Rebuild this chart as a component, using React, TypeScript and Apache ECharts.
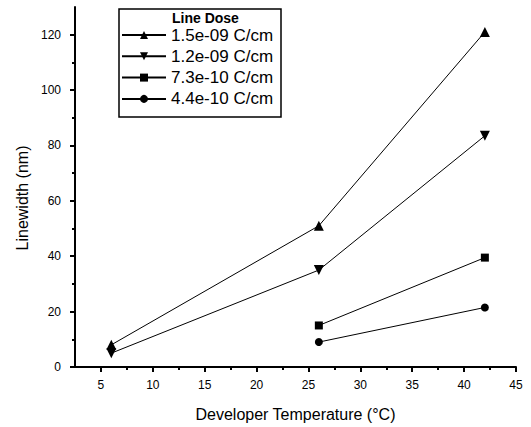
import React, { useEffect, useRef } from "react";
import * as echarts from "echarts";

const temps = [6, 26, 42];
const dose15 = [8, 51, 121];
const dose12 = [5, 35, 83.5];
const dose73 = [null, 15, 39.5];
const dose44 = [null, 9, 21.5];
const seriesNames = ["1.5e-09 C/cm", "1.2e-09 C/cm", "7.3e-10 C/cm", "4.4e-10 C/cm"];
const xMajor = [5, 10, 15, 20, 25, 30, 35, 40, 45];
const xMinor = [7.5, 12.5, 17.5, 22.5, 27.5, 32.5, 37.5, 42.5];
const yMajor = [0, 20, 40, 60, 80, 100, 120];
const yMinor = [10, 30, 50, 70, 90, 110];

const FONT = "'Liberation Sans', Arial, sans-serif";

function pairs(vals: (number | null)[]) {
  const out: number[][] = [];
  vals.forEach((v, i) => {
    if (v !== null) out.push([temps[i], v]);
  });
  return out;
}

export default function App() {
  const ref = useRef<HTMLDivElement>(null);
  useEffect(() => {
    if (!ref.current) return;
    const chart = echarts.init(ref.current, null, { renderer: "svg" });
    const axisLineStyle = { color: "#000", width: 2 };
    const mkSeries = (name: string, vals: (number | null)[], symbol: string, size: number, rot = 0) => ({
      name,
      type: "line",
      data: pairs(vals),
      symbol,
      symbolSize: size,
      symbolRotate: rot,
      lineStyle: { color: "#000", width: 1 },
      itemStyle: { color: "#000" },
      xAxisIndex: 0,
      yAxisIndex: 0,
    });
    chart.setOption({
      animation: false,
      backgroundColor: "#fff",
      textStyle: { fontFamily: FONT },
      grid: { left: 75, right: 15, top: 7, bottom: 60, outerBoundsMode: "none", containLabel: false },
      xAxis: [
        {
          type: "value",
          min: 2.5,
          max: 45,
          interval: 2.5,
          position: "bottom",
          name: "Developer Temperature (°C)",
          nameLocation: "middle",
          nameGap: 39,
          nameTextStyle: { fontSize: 16, color: "#000", fontFamily: FONT },
          axisLine: { show: true, lineStyle: axisLineStyle },
          axisTick: { show: true, length: 5, customValues: xMajor, lineStyle: axisLineStyle },
          axisLabel: { customValues: xMajor, color: "#000", fontSize: 12, margin: 12, fontFamily: FONT },
          splitLine: { show: false },
        },
        {
          type: "value",
          min: 2.5,
          max: 45,
          interval: 2.5,
          position: "bottom",
          offset: 0,
          axisLine: { show: false },
          axisTick: { show: true, length: 3, customValues: xMinor, lineStyle: axisLineStyle },
          axisLabel: { show: false },
          splitLine: { show: false },
        },
      ],
      yAxis: [
        {
          type: "value",
          min: 0,
          max: 130,
          interval: 10,
          position: "left",
          axisLine: { show: true, lineStyle: axisLineStyle },
          axisTick: { show: true, length: 5, customValues: yMajor, lineStyle: axisLineStyle },
          axisLabel: { customValues: yMajor, color: "#000", fontSize: 12, margin: 14, fontFamily: FONT },
          splitLine: { show: false },
        },
        {
          type: "value",
          min: 0,
          max: 130,
          interval: 10,
          position: "left",
          offset: 0,
          axisLine: { show: false },
          axisTick: { show: true, length: 3, customValues: yMinor, lineStyle: axisLineStyle },
          axisLabel: { show: false },
          splitLine: { show: false },
        },
      ],
      legend: {
        orient: "vertical",
        left: 121,
        top: 26.5,
        padding: 0,
        itemWidth: 44,
        itemHeight: 10,
        itemGap: 4.3,
        textStyle: { fontSize: 17, lineHeight: 17, color: "#000", fontFamily: FONT },
        data: seriesNames,
      },
      graphic: [
        {
          type: "rect",
          shape: { x: 119, y: 9, width: 162, height: 108 },
          style: { fill: "none", stroke: "#000", lineWidth: 1.5 },
          silent: true,
        },
        {
          type: "text",
          x: 172,
          y: 11,
          style: { text: "Line Dose", font: `bold 14px ${FONT}`, fill: "#000" },
          silent: true,
        },
        {
          type: "text",
          x: 22,
          y: 198,
          rotation: Math.PI / 2,
          style: {
            text: "Linewidth (nm)",
            font: `16px ${FONT}`,
            fill: "#000",
            align: "center",
            verticalAlign: "middle",
          },
          silent: true,
        },
      ],
      series: [
        mkSeries(seriesNames[0], dose15, "triangle", 10),
        mkSeries(seriesNames[1], dose12, "triangle", 10, 180),
        mkSeries(seriesNames[2], dose73, "rect", 8),
        mkSeries(seriesNames[3], dose44, "circle", 8),
      ],
    });
    return () => chart.dispose();
  }, []);
  return <div ref={ref} style={{ width: 531, height: 427, position: "absolute", left: 0, top: 0 }} />;
}
